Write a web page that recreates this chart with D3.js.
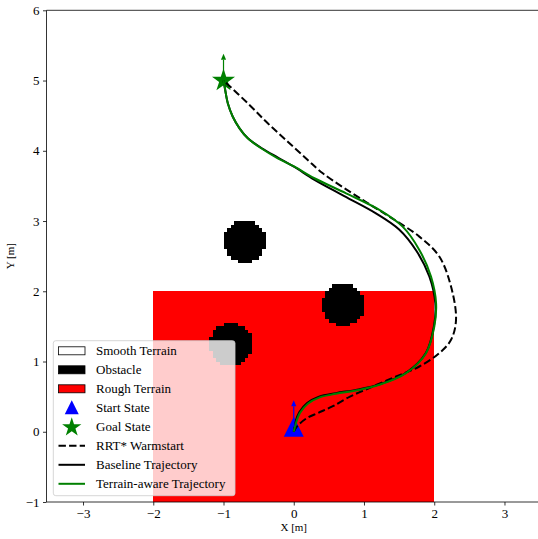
<!DOCTYPE html>
<html><head><meta charset="utf-8">
<script src="https://cdn.jsdelivr.net/npm/d3@7"></script>
<style>body{margin:0;background:#fff}svg{display:block}text{font-family:"Liberation Serif","DejaVu Serif",serif}</style>
</head><body><div id="chart"></div>
<script>
// ---- data ----
const xTicks = [-3, -2, -1, 0, 1, 2, 3];
const yTicks = [-1, 0, 1, 2, 3, 4, 5, 6];
const roughTerrain = {x0: -2, x1: 2, y0: -1, y1: 2};
const obstacles = [
  {cx: -0.70, cy: 2.71, r: 0.30},
  {cx: 0.71, cy: 1.81, r: 0.30},
  {cx: -0.89, cy: 1.24, r: 0.30}
];
const startState = {x: 0, y: 0.07, heading: 90};
const goalState = {x: -1.0, y: 5.0, heading: 90};
const rrtWarmstart = [
  [0,0],[0.05,0.08],[0.18,0.19],[0.35,0.27],[0.55,0.36],[0.80,0.50],[1.124,0.644],
  [1.457,0.787],[1.788,0.929],[2.072,1.119],[2.239,1.309],[2.310,1.593],[2.239,2.067],
  [2.072,2.494],[1.788,2.778],[1.361,3.063],[0.981,3.300],[0.413,3.68],[0.199,3.869],
  [-0.085,4.129],[-0.370,4.391],[-0.654,4.676],[-1.0,5.0]
];
const baselineTraj = [
  [0,0],[0.02,0.13],[0.08,0.28],[0.19,0.41],[0.36,0.50],[0.6,0.55],[0.9,0.60],
  [1.219,0.675],[1.599,0.84],[1.88,1.12],[1.995,1.50],[2.015,1.83],[1.93,2.21],
  [1.75,2.57],[1.50,2.88],[1.17,3.11],[0.72,3.355],[0.29,3.59],[0.01,3.77],
  [-0.22,3.90],[-0.46,4.04],[-0.654,4.178],[-0.772,4.320],[-0.868,4.485],
  [-0.939,4.676],[-0.976,4.865],[-1.0,5.0]
];
const terrainAwareTraj = [
  [0,0],[0.03,0.12],[0.09,0.27],[0.20,0.40],[0.37,0.49],[0.6,0.54],[0.9,0.59],
  [1.219,0.669],[1.599,0.835],[1.883,1.119],[2.001,1.498],[2.026,1.831],[1.954,2.209],
  [1.788,2.589],[1.550,2.920],[1.219,3.158],[0.745,3.395],[0.294,3.609],[0.010,3.774],
  [-0.228,3.893],[-0.464,4.036],[-0.654,4.178],[-0.772,4.320],[-0.868,4.485],
  [-0.939,4.676],[-0.976,4.865],[-1.0,5.0]
];
const legendLabels = ["Smooth Terrain","Obstacle","Rough Terrain","Start State","Goal State","RRT* Warmstart","Baseline Trajectory","Terrain-aware Trajectory"];
const gridRes = 0.05;

// ---- layout ----
const W = 538, H = 539;
const mLeft = 46.5, mTop = 10.3, mBottom = 502;
const unit = (mBottom - mTop) / 7;
const x = d3.scaleLinear().domain([-3.52, 3.52]).range([mLeft, mLeft + 7.04 * unit]);
const y = d3.scaleLinear().domain([-1, 6]).range([mBottom, mTop]);

const svg = d3.select("#chart").append("svg").attr("width", W).attr("height", H);
svg.append("defs").append("clipPath").attr("id","clip").append("rect")
  .attr("x", mLeft).attr("y", mTop).attr("width", x(3.52)-mLeft).attr("height", mBottom-mTop);
const plot = svg.append("g").attr("clip-path","url(#clip)");

// rough terrain
plot.append("rect").attr("x", x(roughTerrain.x0)).attr("y", y(roughTerrain.y1))
  .attr("width", x(roughTerrain.x1)-x(roughTerrain.x0)).attr("height", y(roughTerrain.y0)-y(roughTerrain.y1))
  .attr("fill","#ff0000").attr("shape-rendering","crispEdges");

// obstacles (rasterized on grid, merged into one path)
obstacles.forEach(o => {
  let d = "";
  const i0 = Math.floor((o.cx - o.r)/gridRes)-1, i1 = Math.ceil((o.cx + o.r)/gridRes)+1;
  const j0 = Math.floor((o.cy - o.r)/gridRes)-1, j1 = Math.ceil((o.cy + o.r)/gridRes)+1;
  for (let j=j0;j<=j1;j++){
    let run = null;
    for (let i=i0;i<=i1+1;i++){
      const cx = (i+0.5)*gridRes, cy=(j+0.5)*gridRes;
      const inside = (cx-o.cx)**2 + (cy-o.cy)**2 <= o.r*o.r;
      if (inside && run===null) run = i;
      if (!inside && run!==null){
        const xa = Math.round(x(run*gridRes)), xb = Math.round(x(i*gridRes));
        const ya = Math.round(y((j+1)*gridRes)), yb = Math.round(y(j*gridRes));
        d += `M${xa},${ya}H${xb}V${yb}H${xa}Z`;
        run = null;
      }
    }
  }
  plot.append("path").attr("d", d).attr("fill","#000").attr("shape-rendering","crispEdges");
});

// markers
const triSize = 10;
plot.append("path").attr("d", `M0,${-triSize} L${-triSize},${triSize} L${triSize},${triSize} Z`)
  .attr("transform", `translate(${x(startState.x)},${y(startState.y)})`).attr("fill","#0000ff");
plot.append("path").attr("d", d3.symbol(d3.symbolStar, 165)())
  .attr("transform", `translate(${x(goalState.x)},${y(goalState.y)})`).attr("fill","#008000");

// trajectories
const line = d3.line().x(d=>x(d[0])).y(d=>y(d[1])).curve(d3.curveCatmullRom.alpha(0.5));
plot.append("path").datum(rrtWarmstart).attr("d", line).attr("fill","none")
  .attr("stroke","#000").attr("stroke-width",2).attr("stroke-dasharray","7.4,3.2");
plot.append("path").datum(baselineTraj).attr("d", line).attr("fill","none")
  .attr("stroke","#000").attr("stroke-width",2);
plot.append("path").datum(terrainAwareTraj).attr("d", line).attr("fill","none")
  .attr("stroke","#008000").attr("stroke-width",2);

// heading arrows
function arrow(s, color){
  const len = 0.38, a = s.heading*Math.PI/180;
  const x0 = x(s.x), y0 = y(s.y);
  const x1 = x(s.x + len*Math.cos(a)), y1 = y(s.y + len*Math.sin(a));
  const dx = x1-x0, dy = y1-y0, L = Math.hypot(dx,dy), ux=dx/L, uy=dy/L;
  const hl = 6, hw = 2.6;
  plot.append("line").attr("x1",x0).attr("y1",y0).attr("x2",x1-ux*hl).attr("y2",y1-uy*hl)
    .attr("stroke",color).attr("stroke-width",1.2);
  const bx = x1-ux*hl, by = y1-uy*hl;
  plot.append("path").attr("d",`M${x1},${y1} L${bx-uy*hw},${by+ux*hw} L${bx+uy*hw},${by-ux*hw} Z`).attr("fill",color);
}
arrow(startState, "#0000ff");
arrow(goalState, "#008000");

// spines
const ax = svg.append("g").attr("stroke","#000").attr("stroke-width",0.8);
ax.append("line").attr("x1",mLeft).attr("x2",mLeft).attr("y1",mTop).attr("y2",mBottom);
ax.append("line").attr("x1",mLeft).attr("x2",W).attr("y1",mBottom).attr("y2",mBottom);
ax.append("line").attr("x1",mLeft).attr("x2",W).attr("y1",mTop).attr("y2",mTop);

// axes ticks
const fmt = d => (d<0 ? "\u2212"+Math.abs(d) : ""+d);
const xAxis = svg.append("g").attr("transform",`translate(0,${mBottom})`)
  .call(d3.axisBottom(x).tickValues(xTicks).tickFormat(fmt).tickSize(3.5).tickPadding(3.5));
const yAxis = svg.append("g").attr("transform",`translate(${mLeft},0)`)
  .call(d3.axisLeft(y).tickValues(yTicks).tickFormat(fmt).tickSize(3.5).tickPadding(3.5));
[xAxis,yAxis].forEach(g=>{
  g.select(".domain").remove();
  g.selectAll(".tick line").attr("stroke","#000").attr("stroke-width",0.8);
  g.selectAll(".tick text").attr("font-family","Liberation Serif").attr("font-size",13).attr("fill","#000");
});
svg.append("text").attr("x", x(0)).attr("y", 531).attr("text-anchor","middle")
  .attr("font-size",11).text("X [m]");
svg.append("text").attr("transform",`translate(14,${y(2.5)}) rotate(-90)`).attr("text-anchor","middle")
  .attr("font-size",11).text("Y [m]");

// legend
const lg = svg.append("g");
const lx0 = 53.3, ly0 = 340.7, lw = 181.7, lh = 155;
lg.append("rect").attr("x",lx0).attr("y",ly0).attr("width",lw).attr("height",lh).attr("rx",2.5)
  .attr("fill","#fff").attr("fill-opacity",0.8).attr("stroke","#cccccc").attr("stroke-opacity",0.8).attr("stroke-width",1);
legendLabels.forEach((lab,i)=>{
  const cy = 350.8 + i*19;
  const hx0 = 58.5, hx1 = 85;
  const g = lg.append("g");
  if (i<3){
    g.append("rect").attr("x",hx0).attr("y",cy-4).attr("width",hx1-hx0).attr("height",8)
      .attr("fill",["#fff","#000","#ff0000"][i]).attr("stroke","#000").attr("stroke-width",0.8);
  } else if (i===3){
    g.append("path").attr("d","M0,-7 L-7,7 L7,7 Z").attr("transform",`translate(${(hx0+hx1)/2},${cy-0.5})`).attr("fill","#0000ff");
  } else if (i===4){
    g.append("path").attr("d", d3.symbol(d3.symbolStar, 115)()).attr("transform",`translate(${(hx0+hx1)/2},${cy+0.5})`).attr("fill","#008000");
  } else {
    g.append("line").attr("x1",hx0).attr("x2",hx1).attr("y1",cy).attr("y2",cy)
      .attr("stroke", i===7?"#008000":"#000").attr("stroke-width",2)
      .attr("stroke-dasharray", i===5?"7.4,3.2":null);
  }
  g.append("text").attr("x",96).attr("y",cy).attr("dy","0.35em").attr("font-size",13).attr("fill","#000").text(lab);
});
</script></body></html>
